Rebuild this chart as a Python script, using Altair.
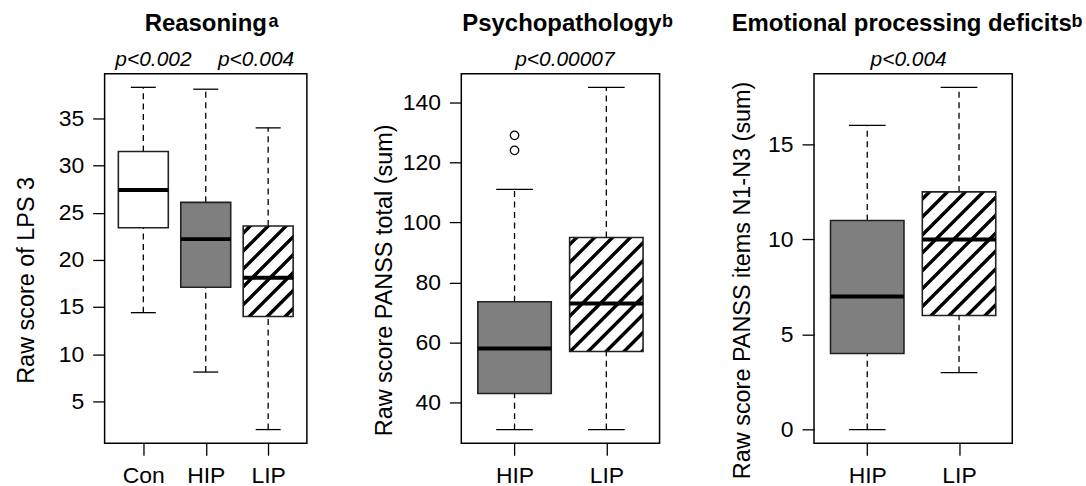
import altair as alt
import pandas as pd

FONT = "Liberation Sans"

# ---------------- data ----------------
# Panel 1: Reasoning (LPS 3)
groups1 = ["Con", "HIP", "LIP"]
low1 = [14.4, 8.1, 2.0]
q1_1 = [23.4, 17.1, 14.0]
med1 = [27.4, 22.2, 18.1]
q3_1 = [31.5, 26.1, 23.6]
up1 = [38.3, 38.1, 34.0]
out1 = []
p_text1 = ["p<0.002", "p<0.004"]

# Panel 2: Psychopathology (PANSS total)
groups2 = ["HIP", "LIP"]
low2 = [31, 31]
q1_2 = [43, 57]
med2 = [58, 73]
q3_2 = [73.6, 95]
up2 = [111, 145]
out2 = [("HIP", 124), ("HIP", 129)]
p_text2 = ["p<0.00007"]

# Panel 3: Emotional processing deficits (PANSS N1-N3)
groups3 = ["HIP", "LIP"]
low3 = [0, 3]
q1_3 = [4, 6]
med3 = [7, 10]
q3_3 = [11, 12.5]
up3 = [16, 18]
out3 = []
p_text3 = ["p<0.004"]

titles = ["Reasoning", "Psychopathology", "Emotional processing deficits"]
sups = ["a", "b", "b"]
ytitles = ["Raw score of LPS 3", "Raw score PANSS total (sum)", "Raw score PANSS items N1-N3 (sum)"]
yticks1 = [5, 10, 15, 20, 25, 30, 35]
yticks2 = [40, 60, 80, 100, 120, 140]
yticks3 = [0, 5, 10, 15]

FILLS = {"Con": "#ffffff", "HIP": "#7f7f7f"}
HEIGHT = 371
FS = 23


def hatch_fill(W, H, period=18.0, band=3.6, edge=1.3, phase=4.0):
    """Linear gradient giving 45-degree '/' stripes across a W x H box."""
    L = W + H
    k = L / (W * W + H * H)

    def inten(x):
        u = (x - phase) % period
        if u < edge:
            return 1 - u / edge
        if u < edge + band:
            return 0.0
        if u < 2 * edge + band:
            return (u - edge - band) / edge
        return 1.0

    pts = {0.0, L}
    x = phase - period * (int(phase // period) + 1)
    while x < L + period:
        for b in (0, edge, edge + band, 2 * edge + band):
            v = x + b
            if 0 < v < L:
                pts.add(v)
        x += period
    stops = []
    for v in sorted(pts):
        g = int(round(255 * inten(min(max(v, 1e-6), L - 1e-6))))
        col = "#%02x%02x%02x" % (g, g, g)
        stops.append(alt.GradientStop(color=col, offset=round(v / L, 5)))
    return alt.LinearGradient(gradient="linear", stops=stops,
                              x1=0, y1=0, x2=round(W * k, 5), y2=round(H * k, 5))


def panel(groups, low, q1, med, q3, up, outs, ptexts, pxs, title, sup, title_x, sup_x,
          ytitle, yticks, width, ytitle_x):
    n = len(groups)
    pos = list(range(1, n + 1))
    df = pd.DataFrame(dict(group=groups, pos=pos, low=low, q1=q1, med=med, q3=q3, up=up))
    df["left"] = df.pos - 0.4
    df["right"] = df.pos + 0.4
    df["capl"] = df.pos - 0.2
    df["capr"] = df.pos + 0.2
    df["fill"] = [FILLS.get(g, "#ffffff") for g in groups]

    vals = list(low) + list(up) + [v for _, v in outs]
    lo, hi = min(vals), max(vals)
    ydom = [lo - 0.04 * (hi - lo), hi + 0.04 * (hi - lo)]
    xdom = [0.5 - 0.04 * n, n + 0.5 + 0.04 * n]

    names = "[" + ",".join("'%s'" % g for g in groups) + "]"
    xs = alt.Scale(domain=xdom, nice=False, zero=False)
    ys = alt.Scale(domain=ydom, nice=False, zero=False)
    xaxis = alt.Axis(values=pos, labelExpr=names + "[datum.value - 1]", title=None,
                     domain=False, grid=False, tickSize=12, tickColor="black", tickWidth=1.3,
                     labelFontSize=FS, labelColor="black", labelFont=FONT, labelPadding=9,
                     labelOverlap=False, labelFlush=False)
    yaxis = alt.Axis(values=yticks, title=ytitle, domain=False, grid=False, tickSize=12,
                     tickColor="black", tickWidth=1.3, labelFontSize=FS, labelColor="black",
                     labelFont=FONT, labelPadding=9, labelOverlap=False, labelFlush=False,
                     titleFontSize=FS + 0.5, titleFont=FONT, titleFontWeight="normal",
                     titleColor="black", titleX=ytitle_x, titleY=HEIGHT / 2 + 21.5,
                     titleAngle=270, titleAlign="center", titleBaseline="alphabetic")

    base = alt.Chart(df)
    dash = [6, 4.5]
    w_up = base.mark_rule(color="black", strokeWidth=1.3, strokeDash=dash).encode(
        x=alt.X("pos:Q", scale=xs, axis=xaxis), y=alt.Y("q3:Q", scale=ys, axis=yaxis), y2="up:Q")
    w_lo = base.mark_rule(color="black", strokeWidth=1.3, strokeDash=dash).encode(
        x=alt.X("pos:Q", scale=xs), y=alt.Y("low:Q", scale=ys), y2="q1:Q")
    cap_up = base.mark_rule(color="black", strokeWidth=1.3).encode(
        x=alt.X("capl:Q", scale=xs), x2="capr:Q", y=alt.Y("up:Q", scale=ys))
    cap_lo = base.mark_rule(color="black", strokeWidth=1.3).encode(
        x=alt.X("capl:Q", scale=xs), x2="capr:Q", y=alt.Y("low:Q", scale=ys))
    box_plain = base.transform_filter(alt.datum.group != "LIP").mark_rect(
        stroke="#222222", strokeWidth=1.6).encode(
        x=alt.X("left:Q", scale=xs), x2="right:Q", y=alt.Y("q1:Q", scale=ys), y2="q3:Q",
        fill=alt.Fill("fill:N", scale=None))
    layers = [w_up, w_lo, cap_up, cap_lo, box_plain]

    # hatched box (LIP)
    li = groups.index("LIP")
    W = 0.8 * width / (xdom[1] - xdom[0])
    H = (q3[li] - q1[li]) * HEIGHT / (ydom[1] - ydom[0])
    box_hatch = base.transform_filter(alt.datum.group == "LIP").mark_rect(
        stroke="#222222", strokeWidth=1.6, fill=hatch_fill(W, H)).encode(
        x=alt.X("left:Q", scale=xs), x2="right:Q", y=alt.Y("q1:Q", scale=ys), y2="q3:Q")
    layers.append(box_hatch)

    median = base.mark_rule(color="black", strokeWidth=4).encode(
        x=alt.X("left:Q", scale=xs), x2="right:Q", y=alt.Y("med:Q", scale=ys))
    layers.append(median)

    if outs:
        odf = pd.DataFrame(dict(pos=[groups.index(g) + 1 for g, _ in outs], val=[v for _, v in outs]))
        pts = alt.Chart(odf).mark_point(shape="circle", filled=False, size=72, color="black",
                                        opacity=1, strokeWidth=1.3).encode(
            x=alt.X("pos:Q", scale=xs), y=alt.Y("val:Q", scale=ys))
        layers.append(pts)

    tdf = pd.DataFrame(dict(t=[title]))
    ttl = alt.Chart(tdf).mark_text(font=FONT, fontSize=24, fontWeight="bold", color="black",
                                   align="center", baseline="alphabetic").encode(
        text="t:N", x=alt.value(title_x), y=alt.value(-43))
    sdf = pd.DataFrame(dict(t=[sup]))
    sp = alt.Chart(sdf).mark_text(font=FONT, fontSize=18, fontWeight="bold", color="black",
                                  align="left", baseline="alphabetic").encode(
        text="t:N", x=alt.value(sup_x), y=alt.value(-47))
    layers += [ttl, sp]
    for t, px in zip(ptexts, pxs):
        pdf_ = pd.DataFrame(dict(t=[t]))
        layers.append(alt.Chart(pdf_).mark_text(font=FONT, fontSize=21, fontStyle="italic",
                                                color="black", align="center",
                                                baseline="alphabetic").encode(
            text="t:N", x=alt.value(px), y=alt.value(-8)))

    return alt.layer(*layers).properties(width=width, height=HEIGHT)


p1 = panel(groups1, low1, q1_1, med1, q3_1, up1, out1, p_text1, [49, 152],
           titles[0], sups[0], 101.5, 164.5, ytitles[0], yticks1, 203, -71)
p2 = panel(groups2, low2, q1_2, med2, q3_2, up2, out2, p_text2, [104],
           titles[1], sups[1], 101, 201.5, ytitles[1], yticks2, 199, -70)
p3 = panel(groups3, low3, q1_3, med3, q3_3, up3, out3, p_text3, [95],
           titles[2], sups[2], 88, 258.5, ytitles[2], yticks3, 199, -65)

chart = alt.hconcat(p1, p2, p3, spacing=155, bounds="flush").configure(
    font=FONT).configure_view(stroke="black", strokeWidth=1.5).properties(
    padding={"left": 14, "top": 10, "right": 2, "bottom": 2})

chart.save("out.html", embed_options={"renderer": "svg", "actions": False})
